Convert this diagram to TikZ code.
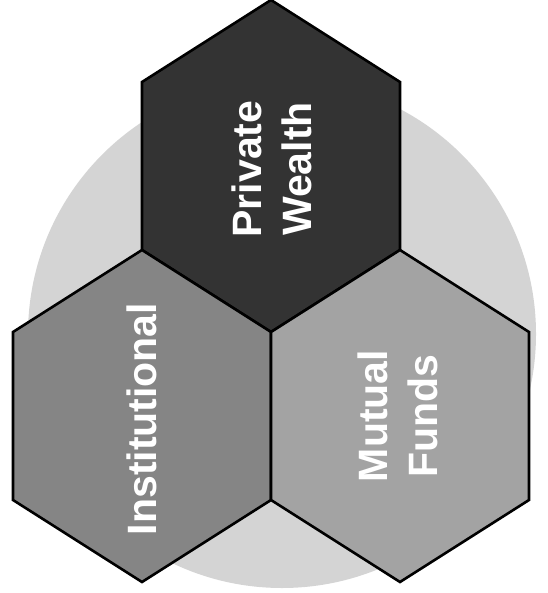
\documentclass[tikz,border=0pt]{standalone}
\usepackage{fontspec}
\setmainfont{Liberation Sans}
\begin{document}
\begin{tikzpicture}[x=1pt,y=-1pt,
  hexline/.style={draw=black,line width=2.6pt,line join=miter},
  hexlabel/.style={text=white,font=\fontsize{41}{50}\selectfont\bfseries,align=center,rotate=90,inner sep=0pt}]
\useasboundingbox (0,0) rectangle (547,593);
% background disc
\fill[black!17] (282,334) circle[radius=254];
\tikzset{hexpath/.style={insert path={
  ++(0,-166) -- ++(129,82) -- ++(0,168) -- ++(-129,82) -- ++(-129,-82) -- ++(0,-168) -- cycle}}}
\coordinate (cpw) at (271,166);
\coordinate (cin) at (142,416);
\coordinate (cmf) at (400,416);
\path[hexline,fill=black!80] (cpw) [hexpath];
\path[hexline,fill=black!48] (cin) [hexpath];
\path[hexline,fill=black!36] (cmf) [hexpath];
\node[hexlabel] (pw) at (272,169) {Private\\Wealth};
\node[hexlabel] (in) at (142,419) {Institutional};
\node[hexlabel] (mf) at (398,416) {Mutual\\Funds};
\end{tikzpicture}
\end{document}
